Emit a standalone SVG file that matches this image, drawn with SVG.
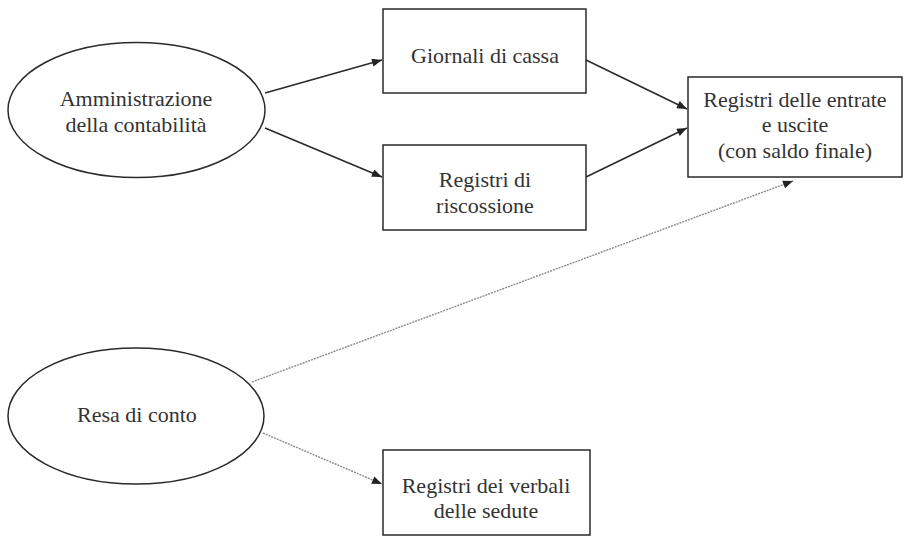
<svg xmlns="http://www.w3.org/2000/svg" width="907" height="536" viewBox="0 0 907 536">
<defs>
<style>
.node{fill:#fff;stroke:#2a2a2a;stroke-width:1.5}
.lbl{font-family:"Liberation Serif","Times New Roman",serif;font-size:22px;fill:#333;text-anchor:middle}
.solid{stroke:#2a2a2a;stroke-width:1.6;fill:none}
.dot{stroke:#8a8a8a;stroke-width:1.4;fill:none;stroke-dasharray:2 1}
</style>
<marker id="ah" viewBox="0 0 10 8" refX="10" refY="4" markerWidth="11" markerHeight="8" markerUnits="userSpaceOnUse" orient="auto">
<path d="M0,0 L10,4 L0,8 Z" fill="#222"/>
</marker>
</defs>
<rect width="907" height="536" fill="#fff"/>
<g id="connectors">
<line class="solid" x1="265" y1="93" x2="382" y2="60" marker-end="url(#ah)"/>
<line class="solid" x1="265" y1="128" x2="382" y2="177" marker-end="url(#ah)"/>
<line class="solid" x1="586" y1="60" x2="687" y2="109" marker-end="url(#ah)"/>
<line class="solid" x1="586" y1="177" x2="687" y2="128" marker-end="url(#ah)"/>
<line class="dot" x1="252" y1="382" x2="793" y2="181" marker-end="url(#ah)"/>
<line class="dot" x1="263" y1="433" x2="382" y2="484" marker-end="url(#ah)"/>
</g>
<g id="amministrazione">
<ellipse class="node" cx="136.5" cy="110" rx="128.5" ry="67.5"/>
<text class="lbl" x="136" y="106">Amministrazione</text>
<text class="lbl" x="136" y="132">della contabilità</text>
</g>
<g id="giornali">
<rect class="node" x="383" y="9" width="203" height="84"/>
<text class="lbl" x="485" y="63">Giornali di cassa</text>
</g>
<g id="riscossione">
<rect class="node" x="383" y="145" width="203" height="85"/>
<text class="lbl" x="485" y="187">Registri di</text>
<text class="lbl" x="485" y="213">riscossione</text>
</g>
<g id="entrate">
<rect class="node" x="688" y="77" width="214" height="100"/>
<text class="lbl" x="795" y="107">Registri delle entrate</text>
<text class="lbl" x="795" y="132">e uscite</text>
<text class="lbl" x="795" y="158">(con saldo finale)</text>
</g>
<g id="resa">
<ellipse class="node" cx="136" cy="416" rx="128" ry="68"/>
<text class="lbl" x="137" y="422">Resa di conto</text>
</g>
<g id="verbali">
<rect class="node" x="383" y="450" width="207" height="85"/>
<text class="lbl" x="486" y="493">Registri dei verbali</text>
<text class="lbl" x="486" y="518">delle sedute</text>
</g>
</svg>
